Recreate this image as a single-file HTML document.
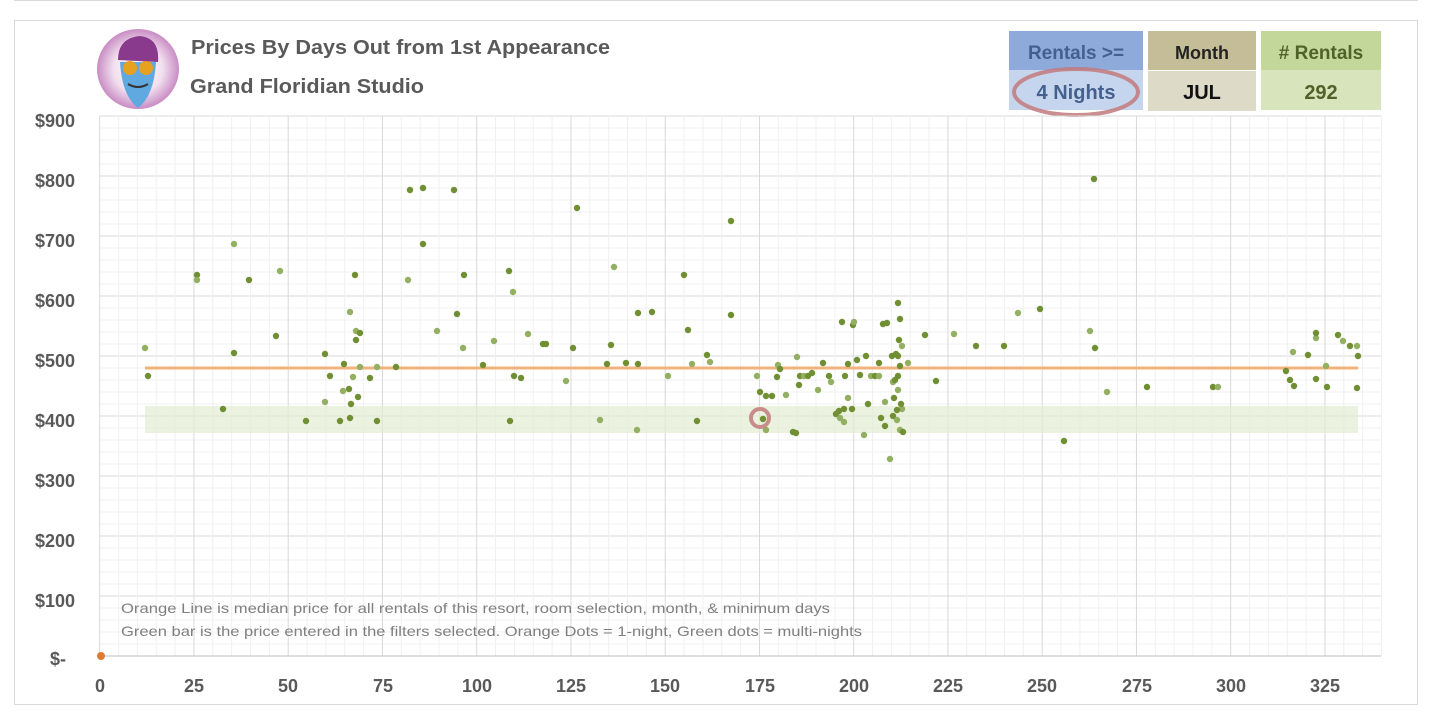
<!DOCTYPE html>
<html><head><meta charset="utf-8"><style>
html,body{margin:0;padding:0;background:#fff;}
svg{display:block;font-family:"Liberation Sans",sans-serif;}
</style></head><body>
<svg width="1432" height="721" viewBox="0 0 1432 721" xmlns="http://www.w3.org/2000/svg">
<defs>
<radialGradient id="glow" cx="50%" cy="50%" r="50%">
<stop offset="0%" stop-color="#fff"/><stop offset="60%" stop-color="#f1e0ef"/><stop offset="100%" stop-color="#c98cc4"/>
</radialGradient>
</defs>
<line x1="14" y1="0.5" x2="1418" y2="0.5" stroke="#d9d9d9"/>
<rect x="14.5" y="20.5" width="1403" height="684" fill="#fff" stroke="#d9d9d9"/>
<!-- logo -->
<ellipse cx="138" cy="69" rx="41" ry="40" fill="url(#glow)"/>
<path d="M118,60 Q118,38 140,36 Q160,38 158,62 Z" fill="#8a3a8c"/>
<path d="M120,62 Q122,96 138,108 Q154,96 156,62 Z" fill="#5fa8e0"/>
<circle cx="130" cy="68" r="7" fill="#e8a020"/><circle cx="146" cy="68" r="7" fill="#e8a020"/>
<path d="M128,84 Q138,90 148,84" stroke="#333" stroke-width="2" fill="none"/>
<!-- title -->
<text x="191" y="54" font-size="20" font-weight="bold" fill="#595959" textLength="419" lengthAdjust="spacingAndGlyphs">Prices By Days Out from 1st Appearance</text>
<text x="190" y="93" font-size="20" font-weight="bold" fill="#595959" textLength="234" lengthAdjust="spacingAndGlyphs">Grand Floridian Studio</text>
<!-- header boxes -->
<rect x="1009" y="31" width="134" height="39" fill="#8eaadb"/>
<rect x="1009" y="70" width="134" height="40" fill="#c5d5ee"/>
<rect x="1148" y="31" width="108" height="39" fill="#c4bd97"/>
<rect x="1148" y="71" width="108" height="40" fill="#dddac8"/>
<rect x="1261" y="31" width="120" height="39" fill="#c4d79b"/>
<rect x="1261" y="70" width="120" height="40" fill="#d8e4bc"/>
<g font-weight="bold" text-anchor="middle">
<text x="1076" y="59" font-size="19" fill="#44608f">Rentals &gt;=</text>
<text x="1076" y="99" font-size="20" fill="#44608f">4 Nights</text>
<text x="1202" y="59" font-size="18" fill="#222">Month</text>
<text x="1202" y="99" font-size="20" fill="#111">JUL</text>
<text x="1321" y="59" font-size="19" fill="#4f6228"># Rentals</text>
<text x="1321" y="99" font-size="20" fill="#4f6228">292</text>
</g>
<ellipse cx="1076" cy="92" rx="62" ry="23" fill="none" stroke="#c27a7c" stroke-width="4" opacity="0.85"/>
<!-- grid -->
<g id="grid"></g>
<!-- axis labels -->
<g font-size="18" font-weight="bold" fill="#595959" text-anchor="end">
<text x="75" y="127">$900</text><text x="75" y="187">$800</text><text x="75" y="247">$700</text>
<text x="75" y="307">$600</text><text x="75" y="367">$500</text><text x="75" y="427">$400</text>
<text x="75" y="487">$300</text><text x="75" y="547">$200</text><text x="75" y="607">$100</text>
<text x="66" y="665">$-</text>
</g>
<g font-size="18" font-weight="bold" fill="#595959" text-anchor="middle">
<text x="100" y="692">0</text><text x="194" y="692">25</text><text x="288" y="692">50</text>
<text x="383" y="692">75</text><text x="477" y="692">100</text><text x="571" y="692">125</text>
<text x="665" y="692">150</text><text x="760" y="692">175</text><text x="854" y="692">200</text>
<text x="948" y="692">225</text><text x="1042" y="692">250</text><text x="1137" y="692">275</text>
<text x="1231" y="692">300</text><text x="1325" y="692">325</text>
</g>
<!-- green bar & median -->
<rect x="145" y="406" width="1213" height="27" fill="#e3ecd1" opacity="0.7"/>
<line x1="145" y1="368" x2="1358" y2="368" stroke="#f0b37e" stroke-width="3"/>
<g id="dots"></g>
<circle cx="760" cy="418" r="9" fill="none" stroke="#c27a7c" stroke-width="4" opacity="0.85"/>
<circle cx="101" cy="656" r="4" fill="#e07a30"/>
<text x="121" y="613" font-size="14" fill="#7f7f7f" textLength="709" lengthAdjust="spacingAndGlyphs">Orange Line is median price for all rentals of this resort, room selection, month, &amp; minimum days</text>
<text x="121" y="636" font-size="14" fill="#7f7f7f" textLength="741" lengthAdjust="spacingAndGlyphs">Green bar is the price entered in the filters selected. Orange Dots = 1-night, Green dots = multi-nights</text>
</svg>
<script>
(function(){
var ns="http://www.w3.org/2000/svg",g=document.getElementById("grid"),s="";
for(var v=0;v<=900;v+=20){var y=656-v*0.6;s+='<line x1="100" x2="1381" y1="'+y+'" y2="'+y+'" stroke="'+(v%100==0?'#d9d9d9':'#f0f0f0')+'"/>';}
for(var u=0;u<=340;u+=5){var x=99.7+u*3.77;s+='<line y1="116" y2="656" x1="'+x+'" x2="'+x+'" stroke="'+(u%25==0?'#d9d9d9':'#f0f0f0')+'"/>';}
s+='<line x1="100" x2="1381" y1="656" y2="656" stroke="#bfbfbf"/>';
g.innerHTML=s;
var p=[[145,348],[148,376],[197,275],[197,280],[223,409],[234,353],[234,244],[249,280],[276,336],[280,271],[306,421],[325,354],[325,402],[330,376],[340,421],[343,391],[344,364],[349,389],[350,312],[350,418],[351,404],[353,377],[355,275],[356,340],[356,331],[358,397],[360,333],[360,367],[370,378],[377,421],[377,367],[396,367],[410,190],[408,280],[423,188],[423,244],[437,331],[454,190],[457,314],[463,348],[464,275],[483,365],[494,341],[510,421],[509,271],[513,292],[514,376],[521,378],[528,334],[543,344],[546,344],[566,381],[573,348],[577,208],[600,420],[607,364],[611,345],[614,267],[626,363],[638,313],[637,430],[638,364],[652,312],[668,376],[684,275],[688,330],[692,364],[697,421],[707,355],[710,362],[731,221],[731,315],[757,376],[760,392],[763,419],[766,430],[766,396],[772,396],[778,365],[777,377],[780,369],[786,395],[793,432],[796,433],[797,357],[799,385],[800,376],[804,376],[808,376],[812,373],[818,390],[823,363],[829,376],[831,382],[836,414],[839,411],[840,418],[842,322],[844,409],[844,422],[845,376],[848,364],[848,398],[853,325],[852,409],[854,322],[857,360],[860,375],[864,435],[866,356],[868,404],[871,376],[875,376],[879,363],[879,376],[881,418],[883,324],[885,402],[885,426],[887,323],[890,459],[892,356],[893,416],[893,382],[894,398],[895,380],[897,420],[896,354],[898,376],[900,430],[900,319],[898,303],[902,409],[897,410],[901,404],[898,390],[900,366],[898,356],[902,346],[899,340],[903,432],[908,363],[925,335],[936,381],[954,334],[976,346],[1004,346],[1018,313],[1040,309],[1064,441],[1090,331],[1094,179],[1095,348],[1107,392],[1147,387],[1213,387],[1218,387],[1286,371],[1290,380],[1293,352],[1294,386],[1308,355],[1316,338],[1316,333],[1316,379],[1326,366],[1327,387],[1338,335],[1343,341],[1350,346],[1357,388],[1357,346],[1358,356]];
var d="";
for(var i=0;i<p.length;i++){d+='<circle cx="'+p[i][0]+'" cy="'+p[i][1]+'" r="3.2" fill="'+(i%3==0?'#93b062':'#6f8f32')+'"/>';}
document.getElementById("dots").innerHTML=d;
})();
</script>
</body></html>
